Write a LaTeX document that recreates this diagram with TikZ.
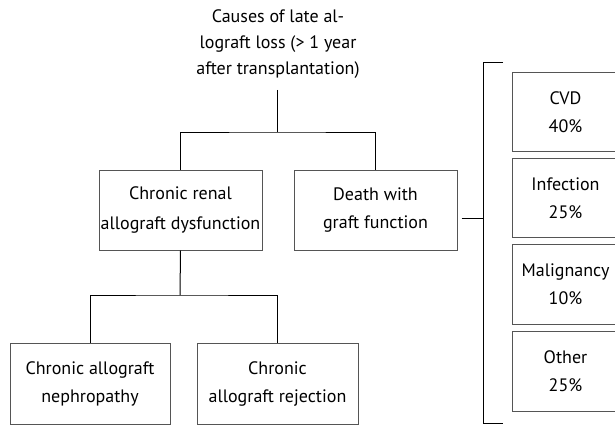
\documentclass[tikz,border=0pt]{standalone}
\usepackage{fontspec}
\setmainfont{PT Sans}
\usepackage{xcolor}
\definecolor{boxgray}{RGB}{85,85,85}

\begin{document}
\begin{tikzpicture}[x=1pt,y=-1pt,
box/.style={rectangle,draw=boxgray,line width=1pt,align=center,inner sep=0pt},
link/.style={draw,line width=1pt}]
\tikzstyle{every node}=[font=\fontsize{18}{28}\selectfont]
\useasboundingbox (0,0) rectangle (615,425);
% title
\node[align=center,font=\fontsize{18}{26}\selectfont] (Root) at (278,44) {Causes of late al-\\lograft loss (> 1 year\\after transplantation)};
\coordinate (RootEnd) at (277,90);
\coordinate (Split) at (277,132);
% second level
\node[box,minimum width=163,minimum height=80,font=\fontsize{18}{30}\selectfont] (Crd) at (180.5,210) {Chronic renal\\allograft dysfunction};
\node[box,minimum width=163,minimum height=80] (Dwgf) at (375.5,210) {Death with\\graft function};
% third level
\coordinate (Split2) at (180,295);
\node[box,minimum width=160,minimum height=81] (Can) at (90,383.5) {Chronic allograft\\nephropathy};
\node[box,minimum width=161,minimum height=81] (Car) at (277.5,383.5) {Chronic\\allograft rejection};
% bracket and causes of death
\coordinate (BrTop) at (503,63);
\coordinate (BrBot) at (503,423);
\coordinate (BrMid) at (483,218);
\node[box,minimum width=106,minimum height=79,anchor=north west] (Cvd) at (512,72) {CVD\\40\%};
\node[box,minimum width=106,minimum height=79,anchor=north west] (Inf) at (512,158) {Infection\\25\%};
\node[box,minimum width=106,minimum height=80,anchor=north west] (Mal) at (512,244) {Malignancy\\10\%};
\node[box,minimum width=106,minimum height=80,anchor=north west] (Oth) at (512,331) {Other\\25\%};
% connectors
\draw[link] (RootEnd) -- (Split);
\draw[link] (Crd.north) |- (Split) -| (Dwgf.north);
\draw[link] (Crd.south) -- (Split2);
\draw[link] (Can.north) |- (Split2) -| (Car.north);
\draw[link] (BrTop) -- ++(-20,0) |- (BrBot);
\draw[link] (Dwgf.east |- BrMid) ++(4,0) -- (BrMid);
\end{tikzpicture}
\end{document}
